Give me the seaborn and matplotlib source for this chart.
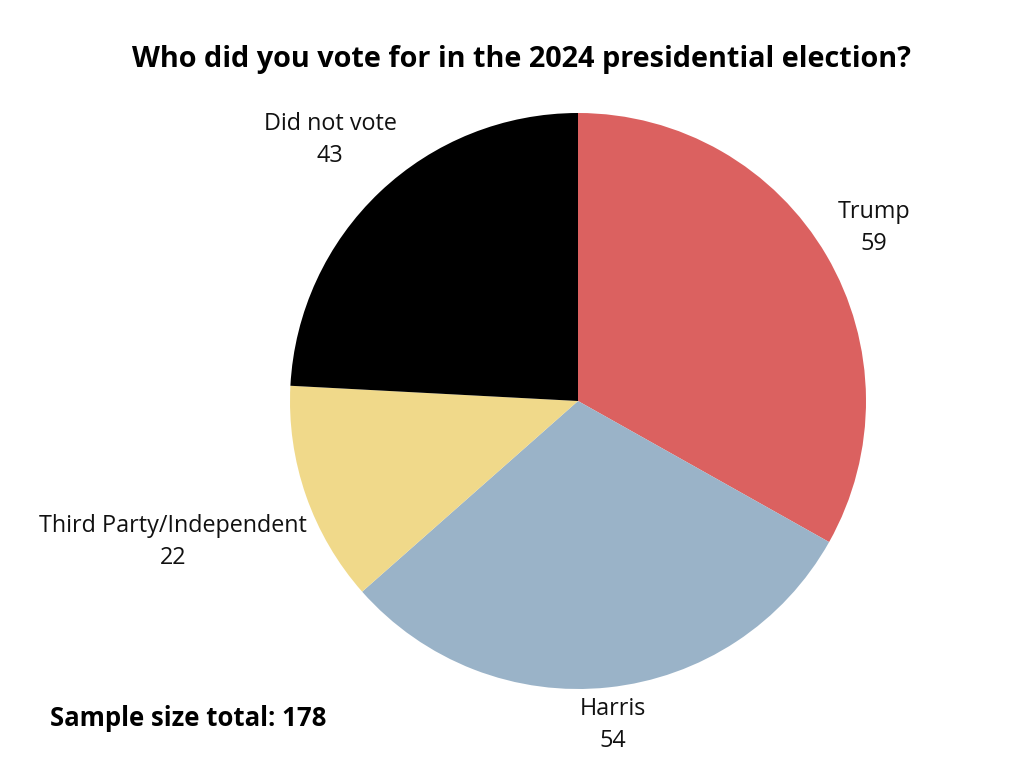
import numpy as np
import matplotlib.pyplot as plt
import seaborn as sns

sns.set_theme(style="white")
plt.rcParams["font.family"] = ["Open Sans", "DejaVu Sans"]

# data
labels = ["Trump", "Harris", "Third Party/Independent", "Did not vote"]
counts = [59, 54, 22, 43]
colors = ["#DB6160", "#9AB3C8", "#F0D98A", "#000000"]
label_dist = [1.19, 1.13, 1.49, 1.25]
title = "Who did you vote for in the 2024 presidential election?"
sample_note = f"Sample size total: {sum(counts)}"

fig = plt.figure(figsize=(10.24, 7.68), dpi=100)
ax = fig.add_axes([290 / 1024, 79 / 768, 576 / 1024, 576 / 768])

wedges, _ = ax.pie(counts, colors=colors, startangle=90, counterclock=False,
                   wedgeprops=dict(linewidth=0))
ax.set_xlim(-1, 1)
ax.set_ylim(-1, 1)
ax.set_aspect("equal")
ax.axis("off")

for w, lab, n, d in zip(wedges, labels, counts, label_dist):
    ang = np.deg2rad((w.theta1 + w.theta2) / 2)
    x, y = d * np.cos(ang), d * np.sin(ang)
    ax.text(x, y, f"{lab}\n{n}", ha="center", va="center", fontsize=16.8,
            linespacing=1.45, color="#111111")

fig.text(522 / 1024, 1 - 60 / 768, title, ha="center", va="center",
         fontsize=20.8, fontweight="bold", color="black")
fig.text(50 / 1024, 1 - 718 / 768, sample_note, ha="left", va="center",
         fontsize=18.5, fontweight="bold", color="black")

fig.savefig("out.png", dpi=100)
